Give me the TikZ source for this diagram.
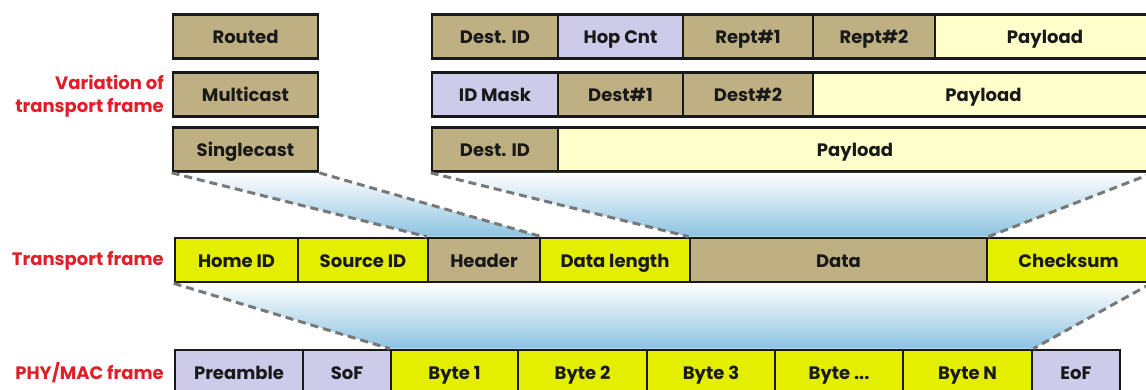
\documentclass[tikz,border=0pt]{standalone}
\usepackage{fontspec}
\setmainfont{Poppins}
\usetikzlibrary{positioning}
\definecolor{tancell}{RGB}{190,176,130}
\definecolor{lilac}{RGB}{206,202,234}
\definecolor{cream}{RGB}{255,255,204}
\definecolor{lime}{RGB}{228,238,0}
\definecolor{skyblue}{RGB}{140,195,225}
\definecolor{framered}{RGB}{225,30,40}
\definecolor{dashgray}{RGB}{120,120,120}

\begin{document}
\begin{tikzpicture}[x=1pt, y=-1pt,
            font=\fontsize{18}{23}\selectfont\bfseries,
            cell/.style = {draw=black!90, line width=2.7pt, minimum height=44,
                inner sep=0pt, text height=16, text depth=2, text=black!90},
            tanbox/.style = {cell, fill=tancell},
            lilbox/.style = {cell, fill=lilac},
            crbox/.style = {cell, fill=cream},
            limbox/.style = {cell, fill=lime},
            lbl/.style = {text=framered, align=right, anchor=east, inner sep=0pt},
            link/.style = {draw=dashgray, line width=3pt, dash pattern=on 8pt off 5pt},
            fan/.style = {top color=white, bottom color=skyblue}]
            \useasboundingbox (0,0) rectangle (1146,390);
            \clip (0,0) rectangle (1146,390);
            % variations of the transport frame
            \node[tanbox, minimum width=145] (rt) at (245.5,36.5) {Routed};
            \node[tanbox, minimum width=145] (mc) at (245.5,94.5) {Multicast};
            \node[tanbox, minimum width=145] (sc) at (245.5,149.5) {Singlecast};
            \node[tanbox, minimum width=126] (r1) at (495,36.5) {Dest. ID};
            \node[lilbox, minimum width=125] (r2) at (620.5,36.5) {Hop Cnt};
            \node[tanbox, minimum width=130] (r3) at (748,36.5) {Rept\#1};
            \node[tanbox, minimum width=122] (r4) at (874,36.5) {Rept\#2};
            \node[crbox, minimum width=220] (r5) at (1045,36.5) {Payload};
            \node[lilbox, minimum width=126] (m1) at (495,94.5) {ID Mask};
            \node[tanbox, minimum width=125] (m2) at (620.5,94.5) {Dest\#1};
            \node[tanbox, minimum width=130] (m3) at (748,94.5) {Dest\#2};
            \node[crbox, minimum width=341] (m4) at (983.5,94.5) {Payload};
            \node[tanbox, minimum width=126] (s1) at (495,149.5) {Dest. ID};
            \node[crbox, minimum width=594] (s2) at (855,149.5) {Payload};
            % transport frame
            \node[limbox, minimum width=123] (hid) at (236.5,260) {Home ID};
            \node[limbox, minimum width=130] (sid) at (363,260) {Source ID};
            \node[tanbox, minimum width=112] (hdr) at (484,260) {Header};
            \node[limbox, minimum width=150] (dlen) at (615,260) {Data length};
            \node[tanbox, minimum width=297] (data) at (838.5,260) {Data};
            \node[limbox, minimum width=163] (csum) at (1068.5,260) {Checksum};
            % PHY/MAC frame
            \node[lilbox, minimum width=128] (pre) at (239,372) {Preamble};
            \node[lilbox, minimum width=88] (sof) at (347,372) {SoF};
            \node[limbox, minimum width=127] (b1) at (454.5,372) {Byte 1};
            \node[limbox, minimum width=129] (b2) at (582.5,372) {Byte 2};
            \node[limbox, minimum width=128] (b3) at (711,372) {Byte 3};
            \node[limbox, minimum width=128] (bx) at (839,372) {Byte ...};
            \node[limbox, minimum width=129] (bn) at (967.5,372) {Byte N};
            \node[lilbox, minimum width=88] (eof) at (1076,372) {EoF};
            % row labels
            \node[lbl] (lvar) at (164,96) {Variation of\\transport frame};
            \node[lbl] (ltr) at (164,261) {Transport frame};
            \node[lbl] (lphy) at (164,373) {PHY/MAC frame};
            % fans
            \shade[fan] (sc.south west) -- (sc.south east) -- (hdr.north east)
                -- (hdr.north west) -- cycle;
            \shade[fan] (s1.south west) -- (s2.south east) -- (data.north east)
                -- (data.north west) -- cycle;
            \shade[fan] (hid.south west) -- (csum.south east) -- (bn.north east)
                -- (b1.north west) -- cycle;
            \path[link]
                (sc.south west) -- (hdr.north west)
                (sc.south east) -- (hdr.north east)
                (s1.south west) -- (data.north west)
                (s2.south east) -- (data.north east)
                (hid.south west) -- (b1.north west)
                (csum.south east) -- (bn.north east);
        \end{tikzpicture}
\end{document}
